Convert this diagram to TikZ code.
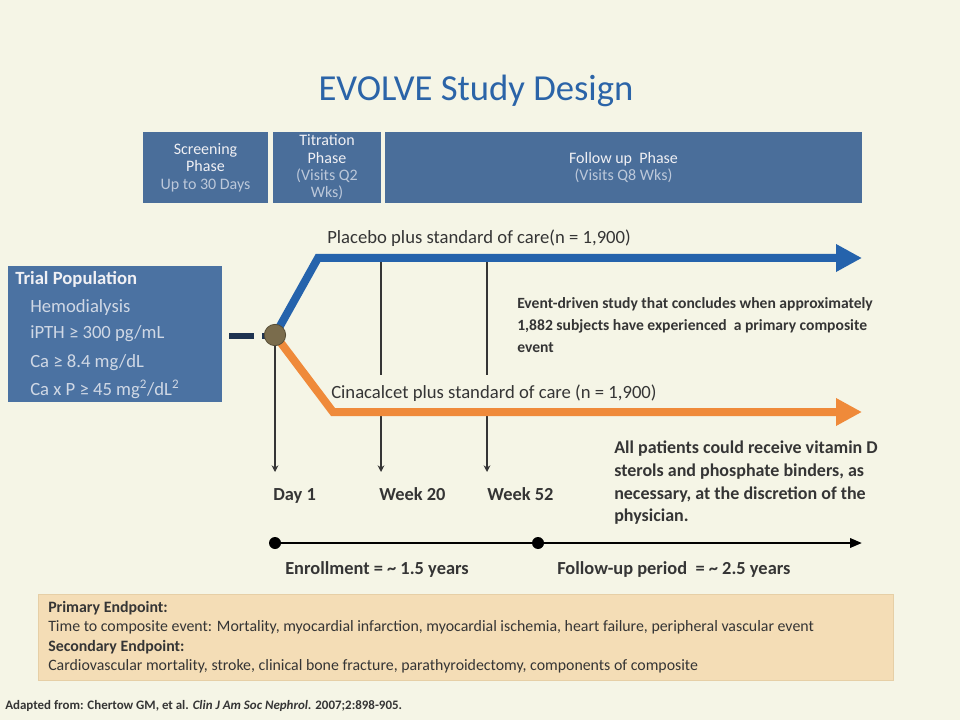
\documentclass[tikz,border=0pt]{standalone}
\usepackage{fontspec}
\setmainfont{Carlito}
\usetikzlibrary{arrows.meta}
\definecolor{bg}{HTML}{F5F5E6}
\definecolor{titleblue}{HTML}{2B64A8}
\definecolor{phasefill}{HTML}{4A6E9A}
\definecolor{trialfill}{HTML}{4B72A2}
\definecolor{phasetext}{HTML}{F0F0F4}
\definecolor{phasesub}{HTML}{BCC8DA}
\definecolor{blueline}{HTML}{2563AC}
\definecolor{orangeline}{HTML}{EF8A3A}
\definecolor{dashcol}{HTML}{1E3350}
\definecolor{knotcol}{HTML}{7A6C4C}
\definecolor{ink}{HTML}{353535}
\definecolor{endfill}{HTML}{F4DDB6}
\definecolor{endline}{HTML}{E6CFA6}
\begin{document}
\begin{tikzpicture}[x=0.75pt,y=-0.75pt,
  phasebox/.style={fill=phasefill, text=phasetext, inner sep=0pt, align=center,
    font=\fontsize{12}{13}\selectfont},
  armlabel/.style={text=ink, inner sep=0pt, anchor=base west, font=\fontsize{14}{16}\selectfont},
  timelbl/.style={text=ink, inner sep=0pt, anchor=base west, font=\bfseries\fontsize{13.8}{16}\selectfont},
  poptext/.style={text=phasesub!70!white, anchor=base west, inner sep=0pt, font=\fontsize{14}{16}\selectfont},
  visitseg/.style={draw=ink, line width=1.4pt},
  visitline/.style={draw=ink, line width=1.4pt, -{Stealth[length=5pt,width=5pt]}},
  armline/.style={line width=6pt, -{Triangle[length=19.5pt,width=19.5pt]}},
]
\useasboundingbox (0,0) rectangle (960,720);
\fill[bg] (0,0) rectangle (960,720);

% title
\node[text=titleblue, font=\fontsize{27.5}{30}\selectfont, inner sep=0pt, anchor=base] (title) at (476,101) {EVOLVE Study Design};

% phase bar
\node[phasebox, minimum width=93.75pt, minimum height=53.25pt] (screen) at (205.5,167.5)
  {Screening\\Phase\\{\color{phasesub}Up to 30 Days}};
\node[phasebox, minimum width=81pt, minimum height=53.25pt] (titr) at (327,167.5)
  {Titration\\Phase\\{\color{phasesub}(Visits Q2}\\{\color{phasesub}Wks)}};
\node[phasebox, minimum width=357.75pt, minimum height=53.25pt] (follow) at (623.5,167.5)
  {Follow up\ \ Phase\\{\color{phasesub}(Visits Q8 Wks)}};

% trial population
\node[fill=trialfill, minimum width=160.5pt, minimum height=102pt, inner sep=0pt] (trial) at (115,334) {};
\node[text=phasetext, anchor=base west, inner sep=0pt, font=\bfseries\fontsize{14}{16}\selectfont] (tp0) at (15,285) {Trial Population};
\node[poptext] (tp1) at (30,312) {Hemodialysis};
\node[poptext] (tp2) at (30,339) {iPTH ≥ 300 pg/mL};
\node[poptext] (tp3) at (30,367) {Ca ≥ 8.4 mg/dL};
\node[poptext] (tp4) at (30,395) {Ca x P ≥ 45 mg\textsuperscript{2}/dL\textsuperscript{2}};

% coordinates
\coordinate (knotc) at (275,335);
\coordinate (bturn) at (318,258);
\coordinate (bend) at (862,258);
\coordinate (oturn) at (333,412);
\coordinate (oend) at (862,412);
\coordinate (w20top) at (381,262);
\coordinate (w52top) at (487,262);
\coordinate (w20mid) at (381,375);
\coordinate (w52mid) at (487,375);
\coordinate (w20low) at (381,412);
\coordinate (w52low) at (487,412);
\coordinate (d1bot) at (275,472);
\coordinate (w20bot) at (381,472);
\coordinate (w52bot) at (487,472);

% visit lines
\draw[visitline] (knotc) -- (d1bot);
\draw[visitseg] (w20top) -- (w20mid);
\draw[visitseg] (w52top) -- (w52mid);
\draw[visitline] (w20low) -- (w20bot);
\draw[visitline] (w52low) -- (w52bot);

% arms
\draw[armline, draw=blueline] (knotc) -- (bturn) -- (bend);
\draw[armline, draw=orangeline] (knotc) -- (oturn) -- (oend);

% dash and knot
\draw[dashcol, line width=5pt] (229,336) -- (254,336);
\draw[dashcol, line width=5pt] (262,336) -- (268,336);
\node[circle, fill=knotcol, draw=knotcol!70!black, line width=0.6pt, minimum size=16pt, inner sep=0pt] (knot) at (knotc) {};

% arm labels
\node[armlabel] (placebo) at (327,244) {Placebo plus standard of care(n = 1,900)};
\node[armlabel] (cina) at (331,398) {Cinacalcet plus standard of care (n = 1,900)};

% event-driven text
\node[text=ink, anchor=north west, inner sep=0pt, align=left, font=\bfseries\fontsize{11.7}{16.5}\selectfont] (event) at (517,297)
  {Event-driven study that concludes when approximately\\1,882 subjects have experienced\ \ a primary composite\\event};

% visit labels
\node[timelbl] (day1) at (273,500) {Day 1};
\node[timelbl] (wk20) at (379,500) {Week 20};
\node[timelbl] (wk52) at (487,500) {Week 52};

% all patients text
\node[text=ink, anchor=north west, inner sep=0pt, align=left, font=\bfseries\fontsize{13.5}{17}\selectfont] (allpat) at (614,441)
  {All patients could receive vitamin D\\sterols and phosphate binders, as\\necessary, at the discretion of the\\physician.};

% timeline
\node[circle, fill=black, minimum size=9pt, inner sep=0pt] (t0) at (275,543) {};
\node[circle, fill=black, minimum size=9pt, inner sep=0pt] (t1) at (538,543) {};
\coordinate (tend) at (862,543);
\draw[black, line width=1.8pt, -{Triangle[length=9pt,width=7pt]}] (t0.center) -- (t1.center) -- (tend);
\node[timelbl] (enroll) at (285,574) {Enrollment = \textasciitilde{} 1.5 years};
\node[timelbl] (fup) at (557,574) {Follow-up period\ \ = \textasciitilde{} 2.5 years};

% endpoints box
\node[fill=endfill, draw=endline, line width=0.5pt, minimum width=641.25pt, minimum height=64.5pt, inner sep=0pt] (endbox) at (465.5,637) {};
\node[text=ink, anchor=north west, inner sep=0pt, align=left, font=\fontsize{11.9}{14.6}\selectfont] (endtext) at (48,601)
  {\textbf{Primary Endpoint:}\\Time to composite event: Mortality, myocardial infarction, myocardial ischemia, heart failure, peripheral vascular event\\\textbf{Secondary Endpoint:}\\Cardiovascular mortality, stroke, clinical bone fracture, parathyroidectomy, components of composite};

% footnote
\node[text=ink, anchor=base west, inner sep=0pt, font=\bfseries\fontsize{9.7}{11}\selectfont] (foot) at (5,709)
  {Adapted from: Chertow GM, et al. \textit{Clin J Am Soc Nephrol.} 2007;2:898-905.};
\end{tikzpicture}
\end{document}
